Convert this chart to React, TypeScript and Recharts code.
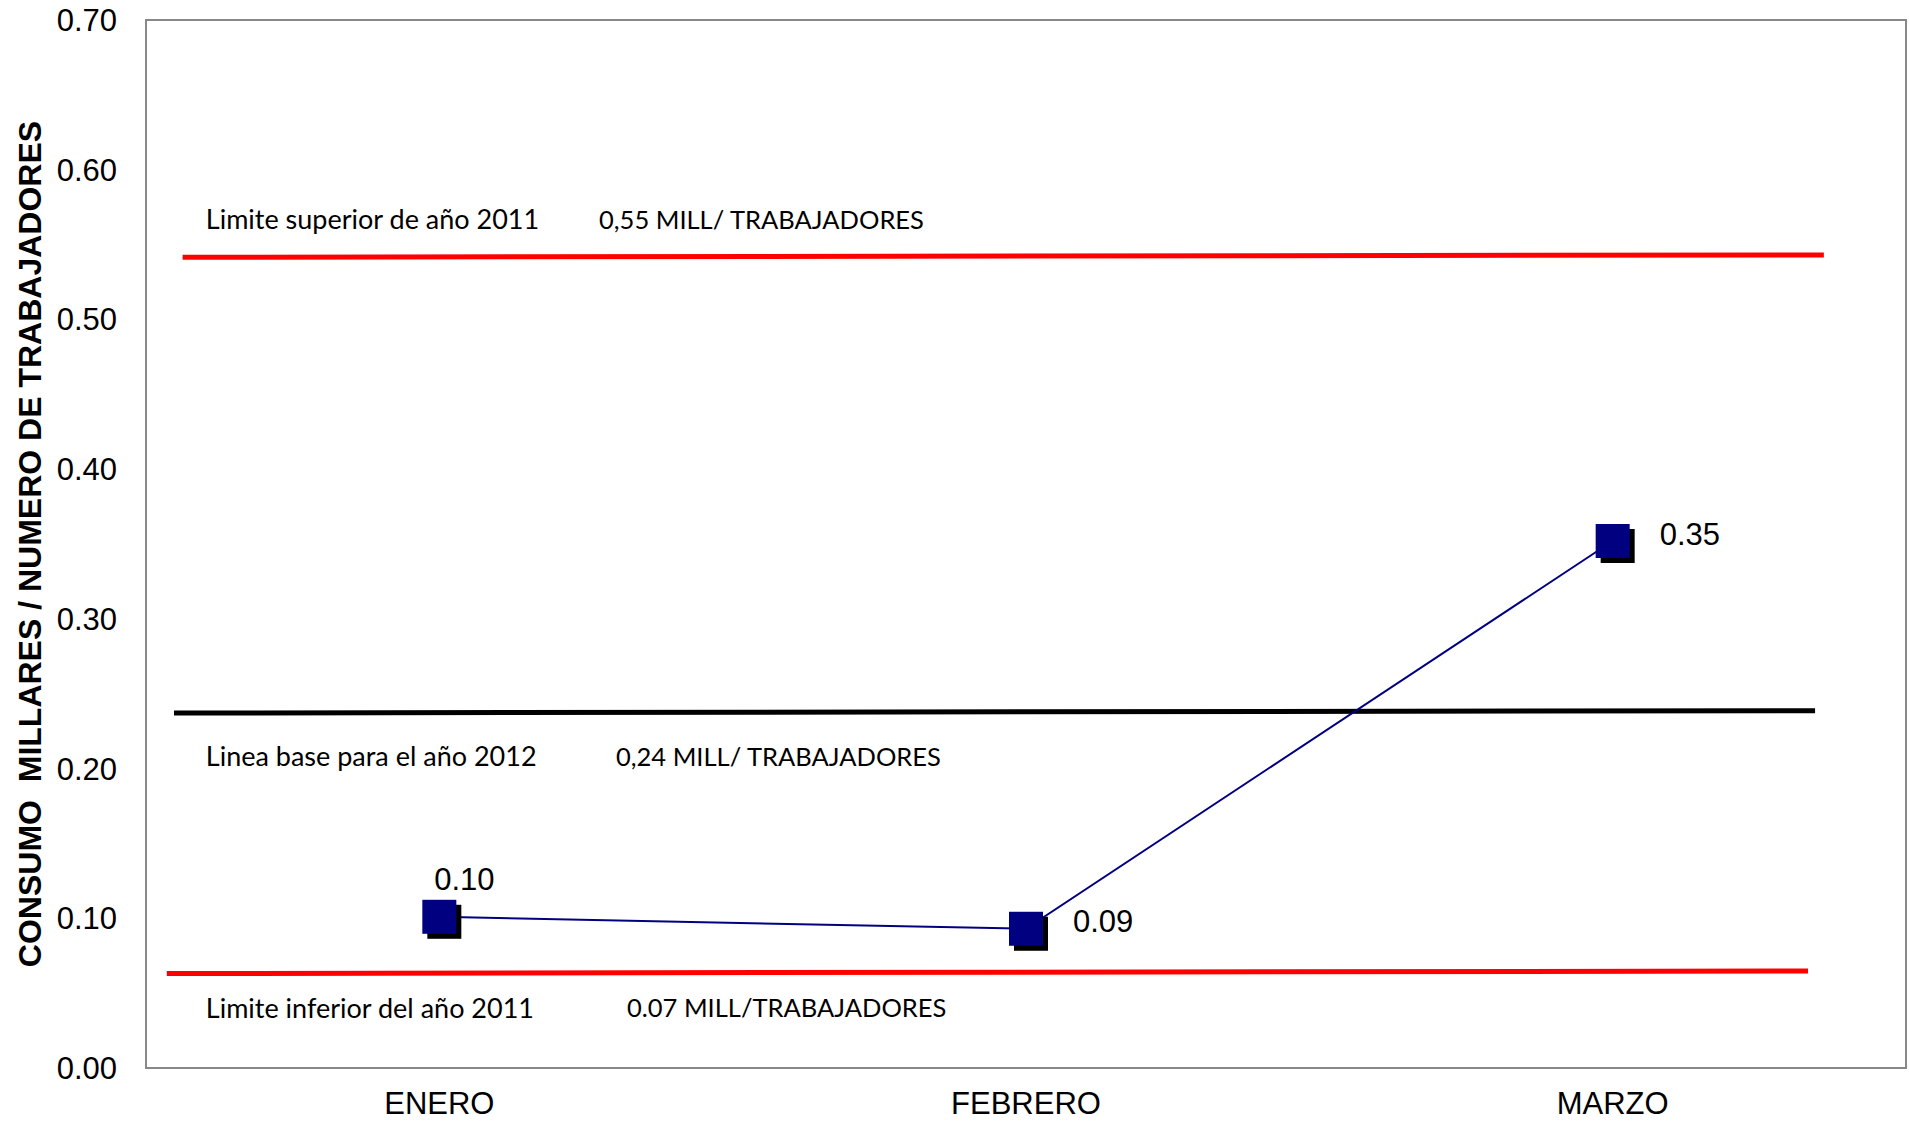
import React from 'react';
import { LineChart, Line, XAxis, YAxis, ReferenceLine, ReferenceArea, ReferenceDot, LabelList } from 'recharts';

const months = ['ENERO', 'FEBRERO', 'MARZO'];
const consumo = [0.101, 0.093, 0.352];
const yTicks = [0, 0.1, 0.2, 0.3, 0.4, 0.5, 0.6, 0.7];
const xTicks = [0, 1, 2];

// Reference lines: start/end in (month index, value) space
const upperLimit = { x1: -0.4376, y1: 0.5415, x2: 2.36, y2: 0.5431 };
const baseLine = { x1: -0.4523, y1: 0.2371, x2: 2.345, y2: 0.2387 };
const lowerLimit = { x1: -0.4645, y1: 0.0631, x2: 2.333, y2: 0.0648 };

const annotationTitles = ['Limite superior de año 2011', 'Linea base para el año 2012', 'Limite inferior del año 2011'];
const annotationValues = ['0,55 MILL/ TRABAJADORES', '0,24 MILL/ TRABAJADORES', '0.07 MILL/TRABAJADORES'];
const annotationY = [0.5671, 0.2084, 0.0407];
const annotationTitleX = [-0.3981, -0.3981, -0.3981];
const annotationValueX = [0.2722, 0.3011, 0.3199];

const data = months.map((m, i) => ({ idx: i, month: m, value: consumo[i] }));

const NUM_FONT = 'Liberation Sans, Arial, sans-serif';
const ANN_FONT = 'Lato, Carlito, Calibri, sans-serif';

const SquareDot = (props: any) => {
  const { cx, cy, index } = props;
  if (cx == null || cy == null) return <g key={`d${index}`} />;
  const s = 34;
  return (
    <g key={`d${index}`}>
      <rect x={cx - s / 2 + 5} y={cy - s / 2 + 5} width={s} height={s} fill="#000000" />
      <rect x={cx - s / 2} y={cy - s / 2} width={s} height={s} fill="#000080" />
    </g>
  );
};

const PointLabel = (props: any) => {
  const { x, y, value, index } = props;
  const txt = Number(value).toFixed(2);
  if (index === 0) {
    return (
      <text x={x + 25} y={y - 37} textAnchor="middle" dominantBaseline="central" fontSize={31} fontFamily={NUM_FONT} fill="#000">
        {txt}
      </text>
    );
  }
  return (
    <text x={x + 47} y={y - 7} textAnchor="start" dominantBaseline="central" fontSize={31} fontFamily={NUM_FONT} fill="#000">
      {txt}
    </text>
  );
};

const YLabel = (props: any) => {
  const vb = props.viewBox || {};
  const cx = (vb.x || 0) + 30;
  const cy = (vb.y || 0) + (vb.height || 0) / 2;
  return (
    <text
      x={cx}
      y={cy}
      transform={`rotate(-90, ${cx}, ${cy})`}
      textAnchor="middle"
      dominantBaseline="central"
      fontSize={32}
      fontWeight="bold"
      fontFamily={NUM_FONT}
      fill="#000"
      style={{ whiteSpace: 'pre' }}
    >
      {'CONSUMO  MILLARES / NUMERO DE TRABAJADORES'}
    </text>
  );
};

const annText = (txt: string, size: number) => (props: any) => (
  <text x={props.cx} y={props.cy} textAnchor="start" dominantBaseline="central" fontSize={size} fontFamily={ANN_FONT} fill="#000">
    {txt}
  </text>
);

const segs = [
  { s: upperLimit, c: '#ff0000' },
  { s: baseLine, c: '#000000' },
  { s: lowerLimit, c: '#ff0000' },
];

export default function App() {
  return (
    <div style={{ position: 'absolute', left: 0, top: 0, background: '#fff' }}>
      <LineChart width={1909} height={1122} data={data} margin={{ top: 20, right: 3, left: 0, bottom: 0 }}>
        <XAxis
          dataKey="idx"
          type="number"
          domain={[-0.5, 2.5]}
          allowDataOverflow
          ticks={xTicks}
          interval={0}
          tickFormatter={(v: number) => months[v] ?? ''}
          height={54}
          axisLine={false}
          tickLine={false}
          tickSize={0}
          tickMargin={24}
          tick={{ fontSize: 31, fontFamily: NUM_FONT, fill: '#000' }}
        />
        <YAxis
          domain={[0, 0.7]}
          ticks={yTicks}
          width={146}
          axisLine={false}
          tickLine={false}
          tickSize={0}
          tickMargin={29}
          interval={0}
          tickFormatter={(v: number) => v.toFixed(2)}
          tick={{ fontSize: 31, fontFamily: NUM_FONT, fill: '#000' }}
          label={<YLabel />}
        />
        <ReferenceArea x1={-0.5} x2={2.5} y1={0} y2={0.7} fill="none" stroke="#888888" strokeWidth={2} ifOverflow="visible" />
        {segs.map((g, i) => (
          <ReferenceLine
            key={`seg${i}`}
            segment={[{ x: g.s.x1, y: g.s.y1 }, { x: g.s.x2, y: g.s.y2 }]}
            stroke={g.c}
            strokeWidth={5}
            ifOverflow="visible"
          />
        ))}
        {annotationTitles.map((t, i) => (
          <ReferenceDot key={`at${i}`} x={annotationTitleX[i]} y={annotationY[i]} r={0} shape={annText(t, 27)} ifOverflow="visible" />
        ))}
        {annotationValues.map((t, i) => (
          <ReferenceDot key={`av${i}`} x={annotationValueX[i]} y={annotationY[i]} r={0} shape={annText(t, 25.5)} ifOverflow="visible" />
        ))}
        <Line
          dataKey="value"
          stroke="#000080"
          strokeWidth={2}
          dot={SquareDot}
          activeDot={false}
          isAnimationActive={false}
        >
          <LabelList dataKey="value" content={PointLabel} />
        </Line>
      </LineChart>
    </div>
  );
}
